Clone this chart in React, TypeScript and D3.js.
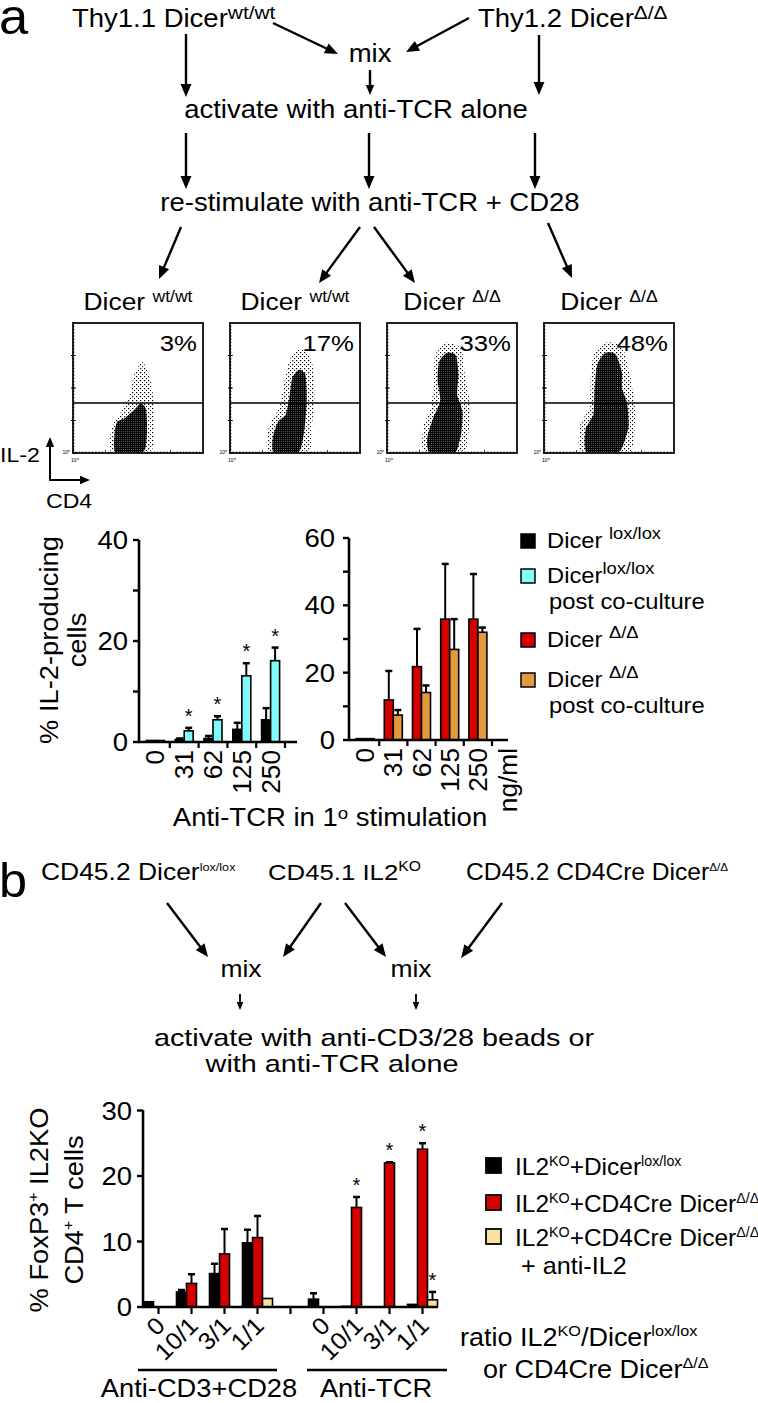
import React from "react";
import * as d3 from "d3";

const F = "'Liberation Sans', Arial, Helvetica, sans-serif";

// ---------------- Panel a : bar charts ----------------
const doseLabels = ["0", "31", "62", "125", "250"];
const loxValues = [0.3, 0.5, 0.7, 2.5, 4.4];
const loxErrors = [0, 0.2, 0.5, 1.3, 2.3];
const loxPostValues = [0.3, 2.2, 4.4, 13.1, 16.1];
const loxPostErrors = [0, 0.6, 0.7, 2.5, 2.6];
const loxPostStars = [false, true, true, true, true];
const deltaValues = [0.4, 11.9, 21.8, 35.9, 35.9];
const deltaErrors = [0, 8.6, 11.2, 16.4, 13.4];
const deltaPostValues = [0.4, 7.4, 14.1, 26.9, 32.0];
const deltaPostErrors = [0, 1.5, 2.1, 9.0, 1.4];
const leftTicks = [0, 10, 20, 30, 40];
const leftTickLabels = [0, 20, 40];
const rightTicks = [0, 10, 20, 30, 40, 50, 60];
const rightTickLabels = [0, 20, 40, 60];

// ---------------- Panel a : flow plots ----------------
const flowPercents = ["3%", "17%", "33%", "48%"];
const flowTitles = ["wt/wt", "wt/wt", "Δ/Δ", "Δ/Δ"];
// cloud outlines, [CD4 (0-1), IL-2 (0-1)]
const flowCores: [number, number][][] = [
  [[0.33, 0.0], [0.32, 0.15], [0.34, 0.24], [0.40, 0.27], [0.47, 0.33], [0.52, 0.38], [0.56, 0.34], [0.57, 0.2], [0.56, 0.05], [0.52, 0.0]],
  [[0.34, 0.0], [0.33, 0.12], [0.37, 0.24], [0.43, 0.3], [0.46, 0.45], [0.48, 0.58], [0.53, 0.64], [0.58, 0.6], [0.59, 0.42], [0.58, 0.25], [0.56, 0.1], [0.52, 0.0]],
  [[0.33, 0.0], [0.31, 0.12], [0.36, 0.28], [0.41, 0.4], [0.39, 0.55], [0.40, 0.7], [0.46, 0.77], [0.53, 0.75], [0.55, 0.6], [0.54, 0.45], [0.58, 0.32], [0.57, 0.15], [0.52, 0.0]],
  [[0.33, 0.0], [0.32, 0.18], [0.38, 0.3], [0.39, 0.5], [0.41, 0.68], [0.47, 0.77], [0.55, 0.76], [0.6, 0.62], [0.6, 0.5], [0.64, 0.38], [0.65, 0.2], [0.6, 0.04], [0.55, 0.0]],
];
const flowHalos: [number, number][][] = [
  [[0.30, 0.0], [0.30, 0.2], [0.38, 0.33], [0.44, 0.45], [0.47, 0.6], [0.53, 0.7], [0.58, 0.62], [0.62, 0.42], [0.62, 0.2], [0.60, 0.02]],
  [[0.3, 0.0], [0.3, 0.2], [0.38, 0.35], [0.42, 0.55], [0.46, 0.72], [0.55, 0.8], [0.63, 0.7], [0.65, 0.45], [0.63, 0.2], [0.6, 0.0]],
  [[0.29, 0.0], [0.28, 0.2], [0.34, 0.35], [0.36, 0.55], [0.37, 0.75], [0.46, 0.85], [0.57, 0.8], [0.6, 0.6], [0.64, 0.35], [0.62, 0.1], [0.58, 0.0]],
  [[0.29, 0.0], [0.28, 0.22], [0.35, 0.35], [0.36, 0.6], [0.39, 0.78], [0.48, 0.85], [0.6, 0.82], [0.66, 0.6], [0.7, 0.35], [0.69, 0.1], [0.64, 0.0]],
];
const flowGate = 0.385;

// ---------------- Panel b : bar chart ----------------
const ratioLabels = ["0", "10/1", "3/1", "1/1", "", "0", "10/1", "3/1", "1/1"];
const koLoxValues = [0.8, 2.3, 5.1, 9.8, null, 1.2, 0.1, 0, 0.4];
const koLoxErrors = [0, 0.3, 1.5, 2.0, null, 0.9, 0, 0, 0];
const koDeltaValues = [0, 3.6, 8.1, 10.6, null, 0, 15.2, 22.0, 24.1];
const koDeltaErrors = [0, 1.4, 3.8, 3.3, null, 0, 1.6, 0.1, 0.9];
const koDeltaStars = [false, false, false, false, false, false, true, true, true];
const koAntiValues = [null, null, null, 1.3, null, null, null, null, 1.1];
const koAntiErrors = [null, null, null, 0, null, null, null, null, 1.2];
const koAntiStars = [false, false, false, false, false, false, false, false, true];
const bTicks = [0, 10, 20, 30];

const C = {
  black: "#000000",
  cyan: "#80fafa",
  red: "#d40000",
  orange: "#e39a3c",
  yellow: "#f6e29e",
};

type Part = { t: string; sup?: boolean };

function RichText({ x, y, parts, size, supSize, anchor = "start", raise, sx = 1, rot = 0 }: any) {
  const r = raise ?? size * 0.38;
  const out: any[] = [];
  let prevSup = false;
  parts.forEach((p: Part, i: number) => {
    let dy = 0;
    if (p.sup && !prevSup) dy = -r;
    if (!p.sup && prevSup) dy = r;
    out.push(
      <tspan key={i} dy={dy} fontSize={p.sup ? supSize ?? size * 0.65 : size}>
        {p.t}
      </tspan>
    );
    prevSup = !!p.sup;
  });
  return (
    <text x={0} y={0} fontFamily={F} fontSize={size} textAnchor={anchor}
      transform={`translate(${x},${y}) rotate(${rot}) scale(${sx},1)`} fill="#000">
      {out}
    </text>
  );
}

function T({ x, y, size, sx = 1, anchor = "start", rot = 0, dy, children }: any) {
  return (
    <text x={0} y={0} dy={dy} fontFamily={F} fontSize={size} textAnchor={anchor}
      transform={`translate(${x},${y}) rotate(${rot}) scale(${sx},1)`} fill="#000">
      {children}
    </text>
  );
}

function Arrow({ x1, y1, x2, y2, w = 2.4, head = 13 }: any) {
  const a = Math.atan2(y2 - y1, x2 - x1);
  const hw = head * 0.42;
  const bx = x2 - head * Math.cos(a);
  const by = y2 - head * Math.sin(a);
  const p1 = [bx + hw * Math.sin(a), by - hw * Math.cos(a)];
  const p2 = [bx - hw * Math.sin(a), by + hw * Math.cos(a)];
  return (
    <g>
      <line x1={x1} y1={y1} x2={bx + 2 * Math.cos(a)} y2={by + 2 * Math.sin(a)} stroke="#000" strokeWidth={w} />
      <polygon points={`${x2},${y2} ${p1[0]},${p1[1]} ${p2[0]},${p2[1]}`} fill="#000" />
    </g>
  );
}

function BarSeries({ y, values, errors, stars, color, offset, width, center }: any) {
  return (
    <g>
      {values.map((v: number | null, i: number) => {
        if (v === null || v === undefined) return null;
        const cx = center(i) + offset;
        const y0 = y(0);
        const yv = y(v);
        const e = errors ? errors[i] : 0;
        const ye = y(v + (e || 0));
        const mid = cx + width / 2;
        return (
          <g key={i}>
            {e > 0 && (
              <g stroke="#000" strokeWidth={2}>
                <line x1={mid} x2={mid} y1={yv} y2={ye} />
                <line x1={mid - 3.5} x2={mid + 3.5} y1={ye} y2={ye} strokeWidth={2.5} />
              </g>
            )}
            <rect x={cx} y={yv} width={width} height={Math.max(0, y0 - yv)} fill={color} stroke="#000" strokeWidth={1.6} />
            {stars && stars[i] && (
              <text x={mid} y={ye - 5} fontFamily={F} fontSize={20} textAnchor="middle">
                *
              </text>
            )}
          </g>
        );
      })}
    </g>
  );
}

function FlowPlot({ i, left, top, size }: any) {
  const x = d3.scaleLinear().domain([0, 1]).range([left, left + size]);
  const y = d3.scaleLinear().domain([0, 1]).range([top + size, top]);
  const line = d3
    .line<[number, number]>()
    .x((d) => x(d[0]))
    .y((d) => y(d[1]))
    .curve(d3.curveCardinalClosed.tension(0.3));
  const minor = d3.range(0, 40).map((k) => k / 40);
  const decades = [0.25, 0.5, 0.75];
  return (
    <g>
      <clipPath id={`clip${i}`}>
        <rect x={left} y={top} width={size} height={size} />
      </clipPath>
      <g clipPath={`url(#clip${i})`}>
        <path d={line(flowHalos[i]) || ""} fill="url(#sparse)" />
        <path d={line(flowCores[i]) || ""} fill="url(#dense)" />
      </g>
      <rect x={left} y={top} width={size} height={size} fill="none" stroke="#222" strokeWidth={2} />
      <line x1={left} x2={left + size} y1={y(flowGate)} y2={y(flowGate)} stroke="#000" strokeWidth={1.5} />
      {decades.map((d) => (
        <line key={"l" + d} x1={left - 2} x2={left + 2} y1={y(d)} y2={y(d)} stroke="#000" strokeWidth={1} />
      ))}
      {minor.map((d) => (
        <line key={"b" + d} x1={x(d)} x2={x(d)} y1={top + size} y2={top + size - (Math.round(d * 40) % 10 === 0 ? 3 : 1.5)} stroke="#000" strokeWidth={0.8} />
      ))}
      {minor.map((d) => (
        <line key={"v" + d} y1={y(d)} y2={y(d)} x1={left} x2={left + (Math.round(d * 40) % 10 === 0 ? 3 : 1.5)} stroke="#000" strokeWidth={0.8} />
      ))}
      <text x={left - 3} y={top + size + 1} fontFamily={F} fontSize={5} textAnchor="end">10⁰</text>
      <text x={left - 2} y={top + size + 9} fontFamily={F} fontSize={5}>10⁰</text>
      <T x={left + size - 6} y={top + 28} size={23} sx={1.12} anchor="end">{flowPercents[i]}</T>
      <RichText x={left + size / 2} y={top - 13} anchor="middle" size={24} supSize={16} raise={8} sx={1.1}
        parts={[{ t: "Dicer " }, { t: flowTitles[i], sup: true }]} />
    </g>
  );
}

export default function App() {
  // ----- chart a1 -----
  const yA1 = d3.scaleLinear().domain([0, 40]).range([742, 540]);
  const xA1 = d3.scaleBand().domain(doseLabels).range([141, 285]);
  const cA1 = (i: number) => (xA1(doseLabels[i]) as number) + xA1.bandwidth() / 2;
  // ----- chart a2 -----
  const yA2 = d3.scaleLinear().domain([0, 60]).range([740, 538]);
  const xA2 = d3.scaleBand().domain(doseLabels).range([351, 492]);
  const cA2 = (i: number) => (xA2(doseLabels[i]) as number) + xA2.bandwidth() / 2;
  // ----- chart b -----
  const yB = d3.scaleLinear().domain([0, 30]).range([1307, 1110.5]);
  const idx = ratioLabels.map((_, i) => String(i));
  const xB = d3.scaleBand().domain(idx).range([142, 439]);
  const cB = (i: number) => (xB(String(i)) as number) + xB.bandwidth() / 2;

  const bw = 9;
  const bwB = 10;
  const SA = 1.1; // horizontal stretch of figure text

  return (
    <svg width={758} height={1403} style={{ position: "absolute", left: 0, top: 0, background: "#fff" }} fontFamily={F}>
      <defs>
        <pattern id="sparse" width="4" height="4" patternUnits="userSpaceOnUse">
          <rect x="0" y="0" width="1.2" height="1.2" fill="#000" />
          <rect x="2" y="2" width="1" height="1" fill="#000" />
        </pattern>
        <pattern id="dense" width="2" height="2" patternUnits="userSpaceOnUse">
          <rect x="0" y="0" width="2" height="2" fill="#000" />
          <rect x="1" y="1" width="0.6" height="0.6" fill="#fff" />
        </pattern>
      </defs>
      <rect width={758} height={1403} fill="#fff" />

      {/* ================= Panel a flowchart ================= */}
      <T x={-1} y={34} size={50} sx={1.05}>a</T>
      <RichText x={72} y={27} size={25} supSize={19} raise={8} sx={SA} parts={[{ t: "Thy1.1 Dicer" }, { t: "wt/wt", sup: true }]} />
      <RichText x={478} y={27} size={25} supSize={19} raise={8} sx={SA} parts={[{ t: "Thy1.2 Dicer" }, { t: "Δ/Δ", sup: true }]} />
      <T x={370} y={62} size={25} sx={SA} anchor="middle">mix</T>
      <Arrow x1={273} y1={23} x2={338} y2={54} />
      <Arrow x1={469} y1={18} x2={406} y2={52} />
      <Arrow x1={186} y1={34} x2={186} y2={97} />
      <Arrow x1={370} y1={70} x2={370} y2={95} head={10} />
      <Arrow x1={539} y1={35} x2={539} y2={95} />
      <T x={356} y={118} size={25} sx={SA} anchor="middle">activate with anti-TCR alone</T>
      <Arrow x1={186} y1={133} x2={186} y2={189} />
      <Arrow x1={369} y1={133} x2={369} y2={189} />
      <Arrow x1={535} y1={133} x2={535} y2={189} />
      <T x={370} y={211} size={25} sx={SA} anchor="middle">re-stimulate with anti-TCR + CD28</T>
      <Arrow x1={181} y1={227} x2={159} y2={279} />
      <Arrow x1={360} y1={227} x2={319} y2={283} />
      <Arrow x1={374} y1={227} x2={415} y2={283} />
      <Arrow x1={548} y1={223} x2={572} y2={278} />

      {/* flow plots */}
      {[0, 1, 2, 3].map((i) => (
        <FlowPlot key={i} i={i} left={73 + i * 157} top={323} size={130} />
      ))}
      <T x={0} y={462} size={21} sx={SA}>IL-2</T>
      <Arrow x1={50} y1={481} x2={50} y2={437} w={2} head={10} />
      <Arrow x1={49} y1={480} x2={90} y2={480} w={2} head={10} />
      <T x={46} y={508} size={21} sx={SA}>CD4</T>

      {/* ================= Panel a chart 1 ================= */}
      <g>
        <T x={58} y={640} rot={-90} size={26} sx={1.05} anchor="middle">% IL-2-producing</T>
        <T x={86} y={640} rot={-90} size={26} sx={1.05} anchor="middle">cells</T>
        {leftTicks.map((t) => (
          <line key={t} x1={133} x2={139} y1={yA1(t)} y2={yA1(t)} stroke="#000" strokeWidth={2.4} />
        ))}
        {leftTickLabels.map((t) => (
          <T key={t} x={128} y={yA1(t)} dy="0.36em" anchor="end" size={25} sx={SA}>{t}</T>
        ))}
        <BarSeries y={yA1} values={loxValues} errors={loxErrors} color={C.black} offset={-bw} width={bw} center={cA1} />
        <BarSeries y={yA1} values={loxPostValues} errors={loxPostErrors} stars={loxPostStars} color={C.cyan} offset={0} width={bw} center={cA1} />
        <line x1={139} x2={139} y1={540} y2={743} stroke="#000" strokeWidth={2.6} />
        <line x1={138} x2={297} y1={742} y2={742} stroke="#000" strokeWidth={2.6} />
        {doseLabels.map((d) => (
          <line key={d} x1={(xA1(d) as number) + xA1.bandwidth()} x2={(xA1(d) as number) + xA1.bandwidth()} y1={742} y2={748} stroke="#000" strokeWidth={2.2} />
        ))}
        {doseLabels.map((d, i) => (
          <T key={d} x={cA1(i)} y={750} rot={-90} dy="0.36em" anchor="end" size={25} sx={1.05}>{d}</T>
        ))}
      </g>

      {/* ================= Panel a chart 2 ================= */}
      <g>
        {rightTicks.map((t) => (
          <line key={t} x1={343} x2={349} y1={yA2(t)} y2={yA2(t)} stroke="#000" strokeWidth={2.4} />
        ))}
        {rightTickLabels.map((t) => (
          <T key={t} x={335} y={yA2(t)} dy="0.36em" anchor="end" size={25} sx={SA}>{t}</T>
        ))}
        <BarSeries y={yA2} values={deltaValues} errors={deltaErrors} color={C.red} offset={-bw} width={bw} center={cA2} />
        <BarSeries y={yA2} values={deltaPostValues} errors={deltaPostErrors} color={C.orange} offset={0} width={bw} center={cA2} />
        <line x1={349} x2={349} y1={538} y2={741} stroke="#000" strokeWidth={2.6} />
        <line x1={348} x2={508} y1={740} y2={740} stroke="#000" strokeWidth={2.6} />
        {doseLabels.map((d) => (
          <line key={d} x1={(xA2(d) as number) + xA2.bandwidth()} x2={(xA2(d) as number) + xA2.bandwidth()} y1={740} y2={746} stroke="#000" strokeWidth={2.2} />
        ))}
        {doseLabels.map((d, i) => (
          <T key={d} x={cA2(i)} y={748} rot={-90} dy="0.36em" anchor="end" size={25} sx={1.05}>{d}</T>
        ))}
        <T x={508} y={748} rot={-90} dy="0.36em" anchor="end" size={25} sx={1.05}>ng/ml</T>
      </g>
      <RichText x={330} y={826} anchor="middle" size={25} supSize={17} raise={7} sx={SA}
        parts={[{ t: "Anti-TCR in 1" }, { t: "o", sup: true }, { t: " stimulation" }]} />

      {/* legend a */}
      {[
        { c: C.black, y: 541, parts: [{ t: "Dicer " }, { t: "lox/lox", sup: true }], extra: null },
        { c: C.cyan, y: 576, parts: [{ t: "Dicer" }, { t: "lox/lox", sup: true }], extra: "post co-culture" },
        { c: C.red, y: 640, parts: [{ t: "Dicer " }, { t: "Δ/Δ", sup: true }], extra: null },
        { c: C.orange, y: 680, parts: [{ t: "Dicer " }, { t: "Δ/Δ", sup: true }], extra: "post co-culture" },
      ].map((it, k) => (
        <g key={k}>
          <rect x={521} y={it.y - 7} width={14} height={14} fill={it.c} stroke="#000" strokeWidth={1.5} />
          <RichText x={547} y={it.y + 7} size={22} supSize={17} raise={9} sx={1.08} parts={it.parts} />
          {it.extra && <T x={549} y={it.y + 33} size={22} sx={1.08}>{it.extra}</T>}
        </g>
      ))}

      {/* ================= Panel b flowchart ================= */}
      <T x={-1} y={897} size={48} sx={1.05}>b</T>
      <RichText x={41} y={880} size={23} supSize={11} raise={9} sx={1.15} parts={[{ t: "CD45.2 Dicer" }, { t: "lox/lox", sup: true }]} />
      <RichText x={268} y={880} size={23} supSize={14} raise={9} sx={1.12} parts={[{ t: "CD45.1 IL2" }, { t: "KO", sup: true }]} />
      <RichText x={466} y={880} size={23} supSize={11} raise={9} sx={1.07} parts={[{ t: "CD45.2 CD4Cre Dicer" }, { t: "Δ/Δ", sup: true }]} />
      <Arrow x1={167} y1={903} x2={208} y2={957} />
      <Arrow x1={321} y1={903} x2={283} y2={957} />
      <Arrow x1={345} y1={903} x2={386} y2={957} />
      <Arrow x1={502} y1={903} x2={461} y2={958} />
      <T x={241} y={977} size={23} sx={1.15} anchor="middle">mix</T>
      <T x={411} y={977} size={23} sx={1.15} anchor="middle">mix</T>
      <Arrow x1={240} y1={994} x2={240} y2={1010} w={1.8} head={8} />
      <Arrow x1={416} y1={994} x2={416} y2={1010} w={1.8} head={8} />
      <T x={374} y={1046} size={24} sx={1.2} anchor="middle">activate with anti-CD3/28 beads or</T>
      <T x={332} y={1072} size={24} sx={1.2} anchor="middle">with anti-TCR alone</T>

      {/* ================= Panel b chart ================= */}
      <g>
        <text transform="translate(48,1210) rotate(-90) scale(1.05,1)" textAnchor="middle" fontSize={26}>
          <tspan>% FoxP3</tspan><tspan fontSize={15} dy={-10}>+</tspan><tspan dy={10}> IL2KO</tspan>
        </text>
        <text transform="translate(83,1210) rotate(-90) scale(1.05,1)" textAnchor="middle" fontSize={26}>
          <tspan>CD4</tspan><tspan fontSize={15} dy={-10}>+</tspan><tspan dy={10}> T cells</tspan>
        </text>
        {bTicks.map((t) => (
          <line key={t} x1={137} x2={143} y1={yB(t)} y2={yB(t)} stroke="#000" strokeWidth={2.4} />
        ))}
        {bTicks.map((t) => (
          <T key={t} x={132} y={yB(t)} dy="0.36em" anchor="end" size={25} sx={SA}>{t}</T>
        ))}
        <BarSeries y={yB} values={koLoxValues} errors={koLoxErrors} color={C.black} offset={-15} width={bwB} center={cB} />
        <BarSeries y={yB} values={koDeltaValues} errors={koDeltaErrors} stars={koDeltaStars} color={C.red} offset={-5} width={bwB} center={cB} />
        <BarSeries y={yB} values={koAntiValues} errors={koAntiErrors} stars={koAntiStars} color={C.yellow} offset={5} width={bwB} center={cB} />
        <line x1={143} x2={143} y1={1110} y2={1308} stroke="#000" strokeWidth={2.6} />
        <line x1={142} x2={438} y1={1307} y2={1307} stroke="#000" strokeWidth={2.6} />
        {ratioLabels.map((l, i) => (
          <line key={i} x1={cB(i)} x2={cB(i)} y1={1307} y2={1314} stroke="#000" strokeWidth={2.2} />
        ))}
        {ratioLabels.map((l, i) =>
          l ? (
            <T key={i} x={cB(i) + 8} y={1327} rot={-45} anchor="end" size={24} sx={1.05}>{l}</T>
          ) : null
        )}
        <line x1={138} x2={277} y1={1370} y2={1370} stroke="#000" strokeWidth={2.5} />
        <line x1={307} x2={447} y1={1370} y2={1370} stroke="#000" strokeWidth={2.5} />
        <T x={199} y={1397} anchor="middle" size={26} sx={1.05}>Anti-CD3+CD28</T>
        <T x={376} y={1397} anchor="middle" size={26} sx={1.05}>Anti-TCR</T>
      </g>

      {/* legend b */}
      {[
        { c: C.black, y: 1166, parts: [{ t: "IL2" }, { t: "KO", sup: true }, { t: "+Dicer" }, { t: "lox/lox", sup: true }] },
        { c: C.red, y: 1203, parts: [{ t: "IL2" }, { t: "KO", sup: true }, { t: "+CD4Cre Dicer" }, { t: "Δ/Δ", sup: true }] },
        { c: C.yellow, y: 1237, parts: [{ t: "IL2" }, { t: "KO", sup: true }, { t: "+CD4Cre Dicer" }, { t: "Δ/Δ", sup: true }] },
      ].map((it, k) => (
        <g key={k}>
          <rect x={486} y={it.y - 8} width={15} height={15} fill={it.c} stroke="#000" strokeWidth={1.8} />
          <RichText x={515} y={it.y + 9} size={24} supSize={14} raise={9} sx={1.02} parts={it.parts} />
        </g>
      ))}
      <T x={521} y={1274} size={24} sx={1.05}>+ anti-IL2</T>
      <RichText x={460} y={1346} size={25} supSize={15} raise={10} sx={1.08}
        parts={[{ t: "ratio IL2" }, { t: "KO", sup: true }, { t: "/Dicer" }, { t: "lox/lox", sup: true }]} />
      <RichText x={483} y={1378} size={25} supSize={15} raise={10} sx={1.08}
        parts={[{ t: "or CD4Cre Dicer" }, { t: "Δ/Δ", sup: true }]} />
    </svg>
  );
}
